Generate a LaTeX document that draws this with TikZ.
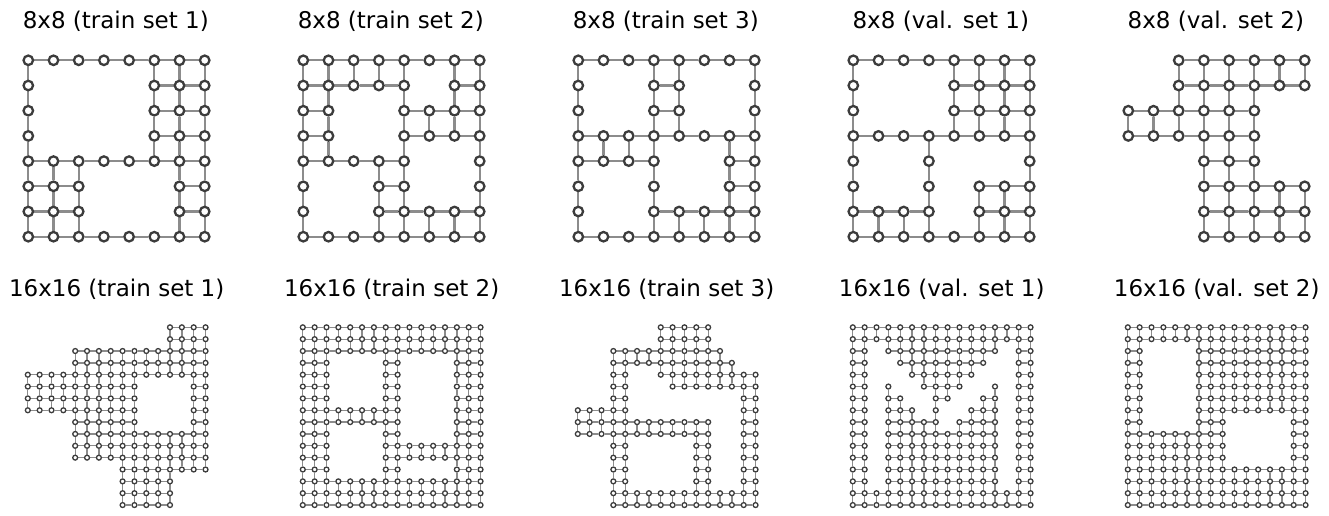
\documentclass[tikz,border=0pt]{standalone}
\usepackage{fontspec}
\setmainfont{DejaVu Sans}
\usetikzlibrary{backgrounds}
\definecolor{ringgray}{HTML}{3C3C3C}
\definecolor{linkgray}{HTML}{8C8C8C}
\tikzset{
    bigdot/.style={
        circle, draw=ringgray, fill=white, line width=2.3pt,
        minimum size=9.5pt, inner sep=0pt
    },
    smalldot/.style={
        circle, draw=ringgray, fill=white, line width=1.3pt,
        minimum size=4.9pt, inner sep=0pt
    },
    bigedge/.style={draw=linkgray, line width=2.2pt},
    smalledge/.style={draw=linkgray, line width=1.3pt},
    paneltitle/.style={font=\fontsize{23}{27}\selectfont, anchor=base}
}

% grid helpers: one row of 0/1 bits -> nodes, then links between neighbours
\newcount\gridcol
\def\bigstep{25.2}\def\smallstep{11.85}
\def\biglast{7}\def\smalllast{15}
\def\scanbits#1{%
  \ifx#1\relax\else
    \ifnum#1=1
      \node[\dotstyle] (\gname-\grow-\the\gridcol)
          at ({\gx+\the\gridcol*\gstep},{\gy+\grow*\gstep}) {};%
    \fi
    \global\advance\gridcol by 1
    \expandafter\scanbits
  \fi}
\newcommand\drawgrid[5]{%
  \def\gname{#1}\def\dotstyle{#2dot}\def\edgestyle{#2edge}%
  \edef\gstep{\csname #2step\endcsname}\edef\glast{\csname #2last\endcsname}%
  \def\gx{#3}\def\gy{#4}%
  \foreach \rowbits [count=\grow from 0] in {#5}{%
    \global\gridcol=0 \expandafter\scanbits\rowbits\relax}%
  \begin{scope}[on background layer]
  \foreach \r in {0,...,\glast}{\foreach \c in {0,...,\glast}{%
    \pgfmathtruncatemacro\cn{\c+1}\pgfmathtruncatemacro\rn{\r+1}%
    \ifcsname pgf@sh@ns@\gname-\r-\c\endcsname
      \ifcsname pgf@sh@ns@\gname-\r-\cn\endcsname
        \draw[\edgestyle] (\gname-\r-\c) -- (\gname-\r-\cn);\fi
      \ifcsname pgf@sh@ns@\gname-\rn-\c\endcsname
        \draw[\edgestyle] (\gname-\r-\c) -- (\gname-\rn-\c);\fi
    \fi}}
  \end{scope}}

\begin{document}
\begin{tikzpicture}[x=1pt, y=-1pt]
\useasboundingbox (0,0) rectangle (1329,515);

% ── Row 1: 8x8 layouts ───────────────────────────────────────────────────────
\node[paneltitle] (t8a) at (115.8,28.4) {8x8 (train set 1)};
\drawgrid{g8a}{big}{28.3}{60.3}{11111111,10000111,10000111,10000111,
  11111111,11100011,11100011,11111111}

\node[paneltitle] (t8b) at (390.8,28.4) {8x8 (train set 2)};
\drawgrid{g8b}{big}{303.3}{60.3}{11111111,11111011,11001111,11001111,
  11111001,10011001,10011111,11111111}

\node[paneltitle] (t8c) at (665.8,28.4) {8x8 (train set 3)};
\drawgrid{g8c}{big}{578.3}{60.3}{11111111,10011001,10011001,11111111,
  11110011,10010011,10011111,11111111}

\node[paneltitle] (t8d) at (940.8,28.4) {8x8 (val. set 1)};
\drawgrid{g8d}{big}{853.3}{60.3}{11111111,10001111,10001111,11111111,
  10010001,10010111,11110111,11111111}

\node[paneltitle] (t8e) at (1215.8,28.4) {8x8 (val. set 2)};
\drawgrid{g8e}{big}{1128.3}{60.3}{00111111,00111111,11111100,11111100,
  00011100,00011111,00011111,00011111}

% ── Row 2: 16x16 layouts ─────────────────────────────────────────────────────
\node[paneltitle] (t16a) at (116.7,296.4) {16x16 (train set 1)};
\drawgrid{g16a}{small}{27.8}{327.3}{0000000000001111,0000000000001111,
  0000111111111111,0000111111111111,1111111111111111,1111111111000011,
  1111111111000011,1111111111000011,0000111111000011,0000111111111111,
  0000111111111111,0000111111111111,0000000011111111,0000000011111000,
  0000000011111000,0000000011111000}

\node[paneltitle] (t16b) at (391.7,296.4) {16x16 (train set 2)};
\drawgrid{g16b}{small}{302.8}{327.3}{1111111111111111,1111111111111111,
  1111111111111111,1110000110000111,1110000110000111,1110000110000111,
  1110000110000111,1111111110000111,1111111110000111,1110000110000111,
  1110000111111111,1110000111111111,1110000110000111,1111111111111111,
  1111111111111111,1111111111111111}

\node[paneltitle] (t16c) at (666.7,296.4) {16x16 (train set 3)};
\drawgrid{g16c}{small}{577.8}{327.3}{0000000111110000,0000000111110000,
  0001111111111000,0001111111111100,0001100111111111,0001100011111111,
  0001100000000011,1111100000000011,1111111111110011,1111111111110011,
  0001100000110011,0001100000110011,0001100000110011,0001100000110011,
  0001111111111111,0001111111111111}

\node[paneltitle] (t16d) at (941.7,296.4) {16x16 (val. set 1)};
\drawgrid{g16d}{small}{852.8}{327.3}{1111111111111111,1111111111111111,
  1101111111111011,1100111111110011,1100011111100011,1101001111001011,
  1101100110011011,1101110100111011,1101111101111011,1101111111111011,
  1101111111111011,1101111111111011,1101111111111011,1101111111111011,
  1111111111111111,1111111111111111}

\node[paneltitle] (t16e) at (1216.7,296.4) {16x16 (val. set 2)};
\drawgrid{g16e}{small}{1127.8}{327.3}{1111111111111111,1111111111111111,
  1100001111111111,1100001111111111,1100001111111111,1100001111111111,
  1100001111111111,1100001111111111,1100001110000011,1111111110000011,
  1111111110000011,1111111110000011,1111111111111111,1111111111111111,
  1111111111111111,1111111111111111}

\end{tikzpicture}
\end{document}
